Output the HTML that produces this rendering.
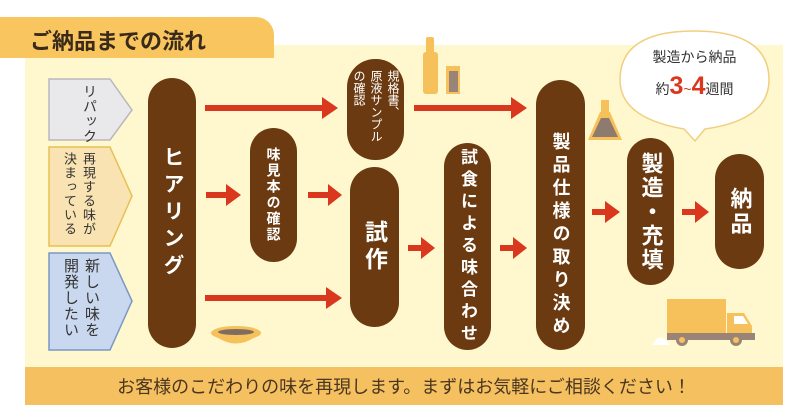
<!DOCTYPE html>
<html><head><meta charset="utf-8"><style>
*{margin:0;padding:0;box-sizing:border-box}
body{width:800px;height:405px;background:#fff;position:relative;overflow:hidden;font-family:"Liberation Sans","Noto Sans CJK JP",sans-serif}
.a{position:absolute}
.pill{position:absolute;background:#6b3a10;border-radius:26px;color:#fff;display:flex;align-items:center;justify-content:center}
.v{writing-mode:vertical-rl;font-weight:bold;letter-spacing:2px}
.t{writing-mode:vertical-rl;font-weight:normal}
</style></head><body>
<div class="a" style="left:25px;top:45px;width:758px;height:322px;background:#fff8cf"></div>
<div class="a" style="left:0;top:17px;width:274px;height:41px;background:#f8c55e;border-top-right-radius:18px"></div>
<div class="a" style="left:30px;top:24px;font-size:22px;font-weight:bold;color:#3a2a1a">ご納品までの流れ</div>
<div class="a" style="left:25px;top:367px;width:758px;height:38px;background:#f5c160"></div>
<div class="a" style="left:25px;top:373px;width:758px;text-align:center;font-size:18px;color:#4a3520">お客様のこだわりの味を再現します。まずはお気軽にご相談ください！</div>

<svg class="a" style="left:0;top:0" width="800" height="405">
<polygon points="49,79 110,79 132,110 110,140 49,140" fill="#e9e9ec" stroke="#b8b8bc" stroke-width="1.5"/>
<polygon points="49,147 110,147 132,196 110,246 49,246" fill="#f9e3b2" stroke="#e8bf55" stroke-width="1.5"/>
<polygon points="49,253 110,253 132,301 110,350 49,350" fill="#c9d8ee" stroke="#7898c5" stroke-width="1.5"/>
<g fill="#d9381e">
<rect x="205" y="105" width="118" height="6"/><polygon points="322,97 338,108 322,119"/>
<rect x="414" y="105" width="98" height="6"/><polygon points="511,97 527,108 511,119"/>
<rect x="206" y="192" width="22" height="6"/><polygon points="226,184 241,195 226,206"/>
<rect x="308" y="192" width="22" height="6"/><polygon points="328,184 342,195 328,206"/>
<rect x="205" y="295" width="122" height="6"/><polygon points="326,287 342,298 326,309"/>
<rect x="408" y="245" width="15" height="6"/><polygon points="421,237 435,248 421,259"/>
<rect x="500" y="245" width="15" height="6"/><polygon points="513,237 527,248 513,259"/>
<rect x="592" y="209" width="15" height="6"/><polygon points="605,201 620,212 605,223"/>
<rect x="682" y="209" width="15" height="6"/><polygon points="695,201 709,212 695,223"/>
</g>
<rect x="426" y="37" width="8" height="20" rx="2" fill="#f6c15a"/>
<rect x="423" y="52" width="15" height="42" rx="3" fill="#f6c15a"/>
<rect x="446" y="66" width="14" height="28" fill="#f6c15a"/>
<rect x="449" y="71" width="9" height="21" fill="#9a8478"/>
<rect x="601" y="100" width="8" height="14" fill="#f6c15a"/>
<polygon points="600,112 610,112 622,140 588,140" fill="#f6c15a"/>
<polygon points="601,118 609,118 618,137 592,137" fill="#8f7a70"/>
<ellipse cx="236" cy="333" rx="25" ry="7" fill="#f6c15a"/>
<ellipse cx="236" cy="332" rx="18" ry="3" fill="#7f6c60"/>
<path d="M214,335 Q236,352 258,335 Z" fill="#f6c15a"/>
<path d="M652,345 Q660,330 670,345 Z" fill="#fff"/>
<rect x="667" y="299" width="59" height="35" fill="#f6c15a"/>
<path d="M727,313 L744,313 L752,326 L752,334 L727,334 Z" fill="#f6c15a"/>
<path d="M734,316 L743,316 L748,324 L734,324 Z" fill="#fff"/>
<rect x="667" y="333" width="88" height="7" fill="#9a8478"/>
<circle cx="682" cy="340" r="6" fill="#9a8478"/><circle cx="682" cy="340" r="3" fill="#f6c15a"/>
<circle cx="736" cy="340" r="6" fill="#9a8478"/><circle cx="736" cy="340" r="3" fill="#f6c15a"/>
<path d="M684,129 Q620,118 620,80 Q620,31 694,31 Q769,31 769,80 Q769,120 705,129 L695,141 Z" fill="#fff" stroke="#f0d080" stroke-width="1.5"/>
</svg>
<div class="a" style="left:620px;top:47px;width:149px;text-align:center;font-size:14px;color:#333">製造から納品</div>
<div class="a" style="left:620px;top:72px;width:149px;text-align:center;font-size:14px;color:#333">約<span style="font-size:25px;font-weight:bold;color:#d9381e">3</span><span style="color:#d9381e">~</span><span style="font-size:25px;font-weight:bold;color:#d9381e">4</span>週間</div>

<div class="a t" style="left:80px;top:84px;font-size:14px;color:#333;letter-spacing:1px">リパック</div>
<div class="a t" style="left:60px;top:152px;height:92px;font-size:13px;color:#333;letter-spacing:1px;line-height:19px">再現する味が<br>決まっている</div>
<div class="a t" style="left:60px;top:258px;height:92px;font-size:15px;color:#333;letter-spacing:1px;line-height:21px">新しい味を<br>開発したい</div>

<div class="pill" style="left:148px;top:78px;width:48px;height:270px"><span class="v" style="font-size:21px;letter-spacing:6px">ヒアリング</span></div>
<div class="pill" style="left:250px;top:128px;width:47px;height:134px"><span class="v" style="font-size:14px">味見本の確認</span></div>
<div class="pill" style="left:347px;top:59px;width:57px;height:101px;border-radius:28px"><span class="t" style="font-size:12px;height:80px;line-height:17px;letter-spacing:0">規格書、<br>原液サンプル<br>の確認</span></div>
<div class="pill" style="left:350px;top:167px;width:49px;height:160px"><span class="v" style="font-size:23px;letter-spacing:4px">試作</span></div>
<div class="pill" style="left:444px;top:143px;width:47px;height:207px"><span class="v" style="font-size:17px;letter-spacing:5px">試食による味合わせ</span></div>
<div class="pill" style="left:536px;top:80px;width:49px;height:270px"><span class="v" style="font-size:18px;letter-spacing:5px;margin-top:40px">製品仕様の取り決め</span></div>
<div class="pill" style="left:627px;top:138px;width:47px;height:147px"><span class="v" style="font-size:22px;letter-spacing:2px">製造・充填</span></div>
<div class="pill" style="left:715px;top:154px;width:49px;height:115px"><span class="v" style="font-size:22px;letter-spacing:3px">納品</span></div>
</body></html>
